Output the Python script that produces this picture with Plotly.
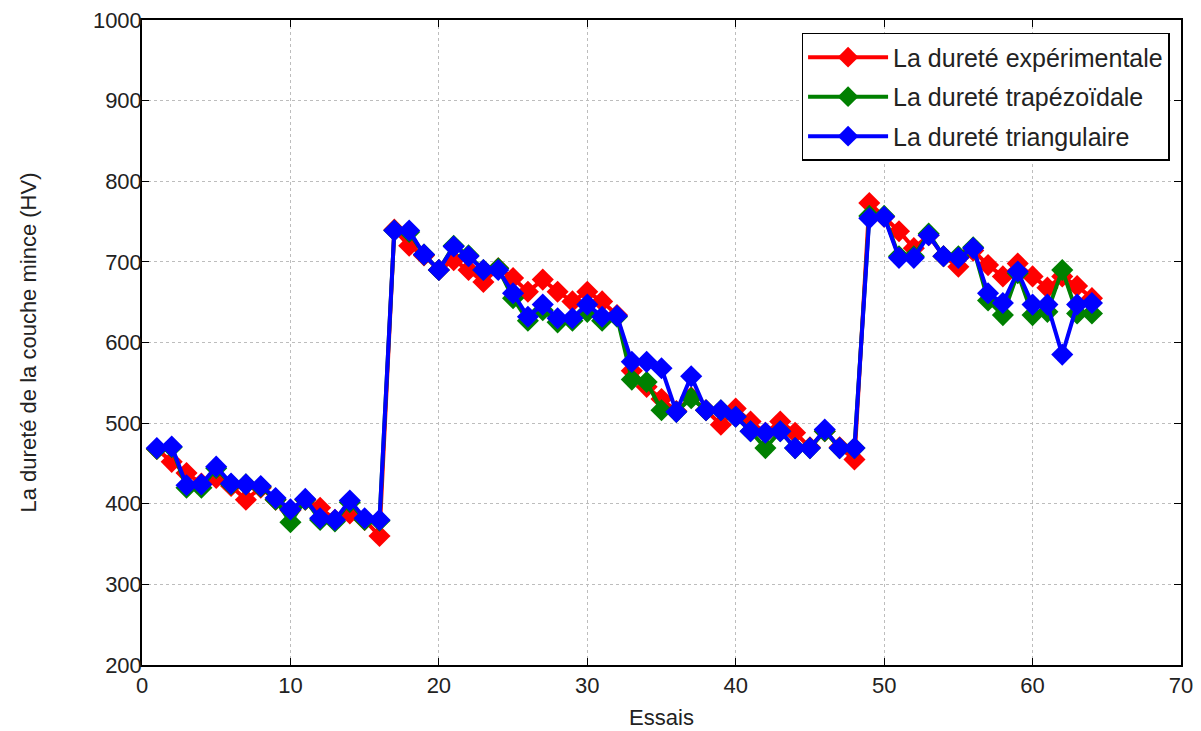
import plotly.graph_objects as go

essais = list(range(1, 65))

durete_exp = [468, 452, 438, 425, 432, 422, 405, 420, 405, 392, 405, 395, 380, 388, 380, 360,
              740, 720, 708, 690, 702, 690, 675, 692, 680, 663, 678, 663, 651, 663, 651, 634,
              565, 545, 530, 515, 532, 516, 498, 518, 502, 488, 502, 488, 470, 490, 470, 455,
              773, 756, 738, 717, 733, 707, 694, 714, 696, 682, 698, 682, 668, 682, 670, 655]

durete_trap = [468, 470, 420, 420, 444, 424, 424, 421, 405, 377, 405, 380, 378, 402, 380, 379,
               739, 737, 709, 690, 720, 708, 690, 692, 655, 627, 640, 625, 627, 638, 627, 632,
               554, 551, 516, 514, 531, 516, 516, 508, 490, 469, 490, 469, 469, 490, 469, 469,
               757, 757, 707, 707, 735, 707, 707, 718, 652, 634, 686, 634, 638, 690, 636, 636]

durete_tri = [469, 471, 423, 424, 446, 425, 424, 422, 407, 393, 406, 382, 380, 404, 382, 380,
              739, 739, 709, 690, 719, 707, 690, 690, 661, 632, 647, 630, 630, 647, 632, 633,
              576, 576, 568, 514, 558, 516, 516, 508, 490, 488, 490, 469, 469, 492, 469, 469,
              754, 756, 705, 705, 733, 707, 705, 717, 661, 649, 688, 647, 647, 585, 647, 649]

series = [
    ("La dureté expérimentale", durete_exp, "#ff0000"),
    ("La dureté trapézoïdale", durete_trap, "#008000"),
    ("La dureté triangulaire", durete_tri, "#0000ff"),
]

fig = go.Figure()
for i, (name, vals, col) in enumerate(series):
    fig.add_trace(go.Scatter(
        x=essais, y=vals, name=name, mode="lines+markers", legendgroup=f"g{i}",
        line=dict(color=col, width=4),
        marker=dict(symbol="diamond", size=17, color=col),
    ))

font_family = "Liberation Sans, Arial, sans-serif"
axis_common = dict(
    showline=True, linecolor="black", linewidth=1.5, mirror="ticks",
    ticks="inside", ticklen=7, tickcolor="black",
    showgrid=True, gridcolor="#bdbdbd", griddash="dot", gridwidth=1,
    zeroline=False, automargin=False, ticklabeloverflow="allow",
    tickfont=dict(size=22, color="#222", family=font_family),
)

fig.update_layout(
    width=1201, height=731,
    margin=dict(l=134, r=28, t=12, b=74),
    paper_bgcolor="white", plot_bgcolor="white",
    font=dict(family=font_family, size=22, color="#222"),
    xaxis=dict(range=[0, 70], dtick=10,
               title=dict(text="Essais", font=dict(size=22), standoff=12), **axis_common),
    yaxis=dict(range=[200, 1000], dtick=100, ticklabelstandoff=-6,
               title=dict(text="La dureté de la couche mince (HV)", font=dict(size=22), standoff=50),
               **axis_common),
    legend=dict(x=0.989, y=0.98, xanchor="right", yanchor="top",
                bgcolor="white", bordercolor="black", borderwidth=1.5,
                font=dict(size=25, color="#222"), tracegroupgap=4, itemwidth=80),
    showlegend=True,
)

fig.write_html("out.html")
